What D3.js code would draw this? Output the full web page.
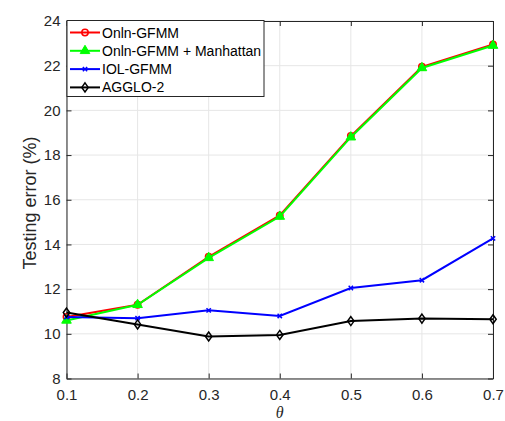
<!DOCTYPE html>
<html>
<head>
<meta charset="utf-8">
<script src="https://cdn.jsdelivr.net/npm/d3@7"></script>
<style>
  body { margin: 0; background: #fff; }
  svg { font-family: Arial, "Liberation Sans", Helvetica, sans-serif; }
  .tick text { font-size: 15px; fill: #262626; }
</style>
</head>
<body>
<svg class="chart"></svg>
<script>
var thetas = [0.1, 0.2, 0.3, 0.4, 0.5, 0.6, 0.7];
var onlnGfmm = [10.75, 11.3, 13.45, 15.3, 18.85, 21.95, 22.95];
var onlnManhattan = [10.6, 11.3, 13.4, 15.25, 18.8, 21.9, 22.9];
var iolGfmm = [10.75, 10.7, 11.05, 10.8, 12.05, 12.4, 14.27];
var agglo2 = [10.95, 10.42, 9.88, 9.95, 10.57, 10.68, 10.65];
var xTicks = [0.1, 0.2, 0.3, 0.4, 0.5, 0.6, 0.7];
var yTicks = [8, 10, 12, 14, 16, 18, 20, 22, 24];

var series = [
  { name: "Onln-GFMM", values: onlnGfmm, color: "#ff0000", marker: "circle" },
  { name: "Onln-GFMM + Manhattan", values: onlnManhattan, color: "#00ff00", marker: "triangle" },
  { name: "IOL-GFMM", values: iolGfmm, color: "#0000ff", marker: "x" },
  { name: "AGGLO-2", values: agglo2, color: "#000000", marker: "diamond" }
];

var width = 505, height = 421;
var margin = { left: 66.5, right: 12, top: 21, bottom: 42.5 };
var chartWidth = width - margin.left - margin.right;
var chartHeight = height - margin.top - margin.bottom;

var svg = d3.select(".chart").attr("width", width).attr("height", height);
var chart = svg.append("g").attr("transform", "translate(" + margin.left + "," + margin.top + ")");

var x = d3.scaleLinear().domain([0.1, 0.7]).range([0, chartWidth]);
var y = d3.scaleLinear().domain([8, 24]).range([chartHeight, 0]);

// grid
chart.append("g").selectAll("line").data(xTicks).enter().append("line")
  .attr("x1", function(d) { return x(d); }).attr("x2", function(d) { return x(d); })
  .attr("y1", 0).attr("y2", chartHeight)
  .attr("stroke", "#e6e6e6").attr("stroke-width", 1);
chart.append("g").selectAll("line").data(yTicks).enter().append("line")
  .attr("y1", function(d) { return y(d); }).attr("y2", function(d) { return y(d); })
  .attr("x1", 0).attr("x2", chartWidth)
  .attr("stroke", "#e6e6e6").attr("stroke-width", 1);

function styleAxis(g) {
  g.select(".domain").attr("stroke", "#262626");
  g.selectAll(".tick line").attr("stroke", "#262626");
}

chart.append("g").attr("transform", "translate(0," + chartHeight + ")")
  .call(d3.axisBottom(x).tickValues(xTicks).tickSize(-5).tickSizeOuter(0).tickPadding(11).tickFormat(d3.format(".1f")))
  .call(styleAxis);
chart.append("g")
  .call(d3.axisTop(x).tickValues(xTicks).tickSize(-5).tickSizeOuter(0).tickFormat(""))
  .call(styleAxis);
chart.append("g")
  .call(d3.axisLeft(y).tickValues(yTicks).tickSize(-5).tickSizeOuter(0).tickPadding(6))
  .call(styleAxis);
chart.append("g").attr("transform", "translate(" + chartWidth + ",0)")
  .call(d3.axisRight(y).tickValues(yTicks).tickSize(-5).tickSizeOuter(0).tickFormat(""))
  .call(styleAxis);

// axis labels
svg.append("text")
  .attr("transform", "translate(36," + 203 + ") rotate(-90)")
  .attr("text-anchor", "middle")
  .attr("font-size", "18px").attr("fill", "#262626")
  .text("Testing error (%)");
svg.append("text")
  .attr("x", margin.left + chartWidth / 2).attr("y", 418)
  .attr("text-anchor", "middle")
  .attr("font-size", "16px").attr("font-style", "italic")
  .attr("font-family", "'Times New Roman', 'Liberation Serif', serif")
  .attr("fill", "#262626")
  .text("θ");

var line = d3.line()
  .x(function(d, i) { return x(thetas[i]); })
  .y(function(d) { return y(d); });

function drawMarker(g, type, color, cx, cy) {
  if (type === "circle") {
    g.append("circle").attr("cx", cx).attr("cy", cy).attr("r", 3.2)
      .attr("fill", "none").attr("stroke", color).attr("stroke-width", 1.5);
  } else if (type === "triangle") {
    g.append("path").attr("d", d3.symbol().type(d3.symbolTriangle).size(40)())
      .attr("transform", "translate(" + cx + "," + cy + ")")
      .attr("fill", color).attr("stroke", color).attr("stroke-width", 1);
  } else if (type === "x") {
    g.append("path").attr("d", d3.symbol().type(d3.symbolX).size(14)())
      .attr("transform", "translate(" + cx + "," + cy + ")")
      .attr("fill", "none").attr("stroke", color).attr("stroke-width", 1.5);
  } else if (type === "diamond") {
    g.append("path").attr("d", "M0,-4.5L3.2,0L0,4.5L-3.2,0Z")
      .attr("transform", "translate(" + cx + "," + cy + ")")
      .attr("fill", "none").attr("stroke", color).attr("stroke-width", 1.5);
  }
}

series.forEach(function(s) {
  var g = chart.append("g");
  g.append("path").datum(s.values).attr("d", line)
    .attr("fill", "none").attr("stroke", s.color).attr("stroke-width", 2);
  s.values.forEach(function(v, i) {
    drawMarker(g, s.marker, s.color, x(thetas[i]), y(v));
  });
});

// legend
var legend = svg.append("g").attr("transform", "translate(67,20.5)");
legend.append("rect").attr("x", 0).attr("y", 0).attr("width", 197).attr("height", 76)
  .attr("fill", "#fff").attr("stroke", "#262626").attr("stroke-width", 1);
series.forEach(function(s, i) {
  var ly = 12 + i * 18.3;
  var row = legend.append("g");
  row.append("line").attr("x1", 3).attr("x2", 33).attr("y1", ly).attr("y2", ly)
    .attr("stroke", s.color).attr("stroke-width", 2);
  drawMarker(row, s.marker, s.color, 18, ly);
  row.append("text").attr("x", 35).attr("y", ly + 5)
    .attr("font-size", "14px").attr("fill", "#000").text(s.name);
});
</script>
</body>
</html>
